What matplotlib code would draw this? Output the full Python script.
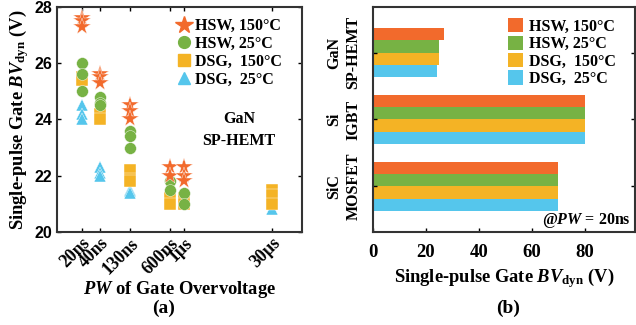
import matplotlib
matplotlib.use('Agg')
import matplotlib.pyplot as plt
from matplotlib.lines import Line2D
import numpy as np

plt.rcParams['font.family'] = 'Liberation Serif'
plt.rcParams['font.weight'] = 'bold'
plt.rcParams['axes.labelweight'] = 'bold'
plt.rcParams['mathtext.fontset'] = 'custom'
plt.rcParams['mathtext.rm'] = 'Liberation Serif:bold'
plt.rcParams['mathtext.bf'] = 'Liberation Serif:bold'
plt.rcParams['mathtext.it'] = 'Liberation Serif:italic:bold'

ORANGE = '#f26a2c'
GREEN = '#77b244'
YELLOW = '#f4b325'
CYAN = '#55c6ec'

# (a) pulse width (ns) vs breakdown voltage
pw_ticks = [20, 40, 130, 600, 1000, 30000]
pw_labels = ['20ns', '40ns', '130ns', '600ns', '1\u00b5s', '30\u00b5s']

hsw150_x = [20, 20, 20, 40, 40, 40, 130, 130, 130, 600, 600, 1000, 1000, 1000]
hsw150_y = [27.6, 27.5, 27.3, 25.6, 25.5, 25.3, 24.5, 24.3, 24.0, 22.3, 22.0, 22.3, 22.0, 21.8]

hsw25_x = [20, 20, 20, 40, 40, 40, 130, 130, 130, 600, 600, 1000, 1000]
hsw25_y = [26.0, 25.6, 25.0, 24.8, 24.6, 24.5, 23.6, 23.4, 23.0, 21.8, 21.5, 21.4, 21.0]

dsg150_x = [20, 20, 40, 40, 130, 130, 130, 600, 600, 1000, 1000, 30000, 30000, 30000]
dsg150_y = [25.5, 25.4, 24.2, 24.0, 22.2, 21.9, 21.8, 21.2, 21.0, 21.2, 21.0, 21.5, 21.3, 21.0]

dsg25_x = [20, 20, 20, 40, 40, 40, 130, 130, 130, 600, 1000, 30000]
dsg25_y = [24.5, 24.2, 24.0, 22.3, 22.1, 22.0, 21.5, 21.45, 21.4, 21.1, 21.0, 20.8]

# (b) breakdown voltage at PW = 20ns
devices = ['GaN\nSP-HEMT', 'Si\nIGBT', 'SiC\nMOSFET']
bv_hsw150 = [27, 80, 70]
bv_hsw25 = [25, 80, 70]
bv_dsg150 = [24.8, 80, 70]
bv_dsg25 = [24, 80, 70]

series_names = ['HSW, 150\u00b0C', 'HSW, 25\u00b0C', 'DSG,  150\u00b0C', 'DSG,  25\u00b0C']
colors = [ORANGE, GREEN, YELLOW, CYAN]
markers = ['*', 'o', 's', '^']
msizes = [13, 8.5, 8, 9]

fig = plt.figure(figsize=(6.36, 3.25), dpi=100)
ax1 = fig.add_axes([0.0896, 0.2862, 0.3852, 0.6923])
ax2 = fig.add_axes([0.5865, 0.2862, 0.4119, 0.6923])

# scatter, bottom series first so stars end up on top
scatter_data = [(hsw150_x, hsw150_y), (hsw25_x, hsw25_y), (dsg150_x, dsg150_y), (dsg25_x, dsg25_y)]
for i in [3, 2, 1, 0]:
    xs, ys = scatter_data[i]
    ax1.plot(xs, ys, linestyle='none', marker=markers[i], ms=msizes[i],
             color=colors[i], mec='white', mew=0.3)

ax1.set_xscale('log')
ax1.set_xlim(7.7, 95000)
ax1.set_ylim(20, 28)
ax1.set_xticks(pw_ticks)
ax1.set_xticklabels(pw_labels, rotation=45, ha='right', rotation_mode='anchor')
ax1.xaxis.set_minor_locator(matplotlib.ticker.NullLocator())
ax1.set_yticks([20, 22, 24, 26, 28])
ax1.tick_params(direction='in', top=True, right=True, width=1, length=3)
ax1.tick_params(axis='x', labelsize=12.8, pad=2)
for lbl in ax1.get_yticklabels():
    lbl.set_fontfamily('Liberation Sans')
    lbl.set_fontsize(11.5)
ax1.set_xlabel('$PW$ of Gate Overvoltage', fontsize=13.3, labelpad=1)
ax1.set_ylabel('Single-pulse Gate $BV_{\\mathrm{dyn}}$ (V)', fontsize=13.3, labelpad=2)
for s in ax1.spines.values():
    s.set_linewidth(1.5)
    s.set_color('#333333')
ax1.text(0.743, 0.453, 'GaN\nSP-HEMT', transform=ax1.transAxes, ha='center', va='center',
         fontsize=11.5, fontweight='bold', linespacing=1.55)
h1 = [Line2D([], [], linestyle='none', marker=markers[i], ms=msizes[i], color=colors[i])
      for i in range(4)]
ax1.legend(h1, series_names, loc='upper right', bbox_to_anchor=(0.965, 1.0), frameon=False,
           prop={'size': 11.5, 'weight': 'bold'}, handlelength=0.8, handletextpad=0.3,
           labelspacing=0.12, borderaxespad=0.3)
fig.text(0.2565, 0.05, '(a)', ha='center', va='center', fontsize=14, fontweight='bold')

# horizontal bars
ypos = np.arange(len(devices))
bh = 0.182
bar_vals = [bv_hsw150, bv_hsw25, bv_dsg150, bv_dsg25]
for i, vals in enumerate(bar_vals):
    ax2.barh(ypos + (i - 1.5) * bh, vals, height=bh, color=colors[i], label=series_names[i])
ax2.set_ylim(2.68, -0.68)
ax2.set_xlim(0, 99)
ax2.set_xticks([0, 20, 40, 60, 80])
ax2.set_yticks(ypos)
ax2.set_yticklabels(devices, rotation=90, va='center', ha='center', linespacing=1.3)
ax2.tick_params(direction='in', right=True, labelsize=11.5, width=1, length=3)
ax2.tick_params(axis='y', pad=21)
ax2.tick_params(axis='x', pad=9, labelsize=13.5)
ax2.set_xlabel('Single-pulse Gate $BV_{\\mathrm{dyn}}$ (V)', fontsize=13.3, labelpad=3)
for s in ax2.spines.values():
    s.set_linewidth(1.5)
    s.set_color('#333333')
ax2.legend(loc='upper right', bbox_to_anchor=(0.97, 1.0), frameon=False,
           prop={'size': 11.5, 'weight': 'bold'}, handlelength=1.0, handleheight=1.0,
           handletextpad=0.35, labelspacing=0.05, borderaxespad=0.3)
ax2.text(0.985, 0.01, '@$PW$ = 20ns', transform=ax2.transAxes, ha='right', va='bottom',
         fontsize=11.5, fontweight='bold')
fig.text(0.7985, 0.05, '(b)', ha='center', va='center', fontsize=14, fontweight='bold')

fig.savefig('out.png', dpi=100)
